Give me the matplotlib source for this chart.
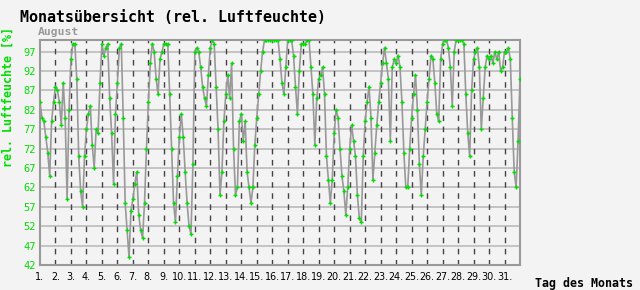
import numpy as np
import matplotlib
matplotlib.use("Agg")
import matplotlib.pyplot as plt

# relative humidity, 8 readings per day (every 3 h), August
humidity = [
    84, 80, 79, 75, 71, 65, 79, 84,   # 1
    88, 87, 84, 78, 89, 80, 59, 82,   # 2
    95, 99, 99, 90, 70, 61, 57, 70,   # 3
    77, 81, 83, 73, 67, 77, 76, 89,   # 4
    99, 96, 98, 99, 85, 76, 63, 81,   # 5
    89, 98, 99, 80, 58, 51, 44, 56,   # 6
    59, 63, 66, 55, 51, 49, 58, 72,   # 7
    84, 94, 99, 97, 90, 86, 95, 97,   # 8
    99, 99, 99, 86, 72, 58, 53, 65,   # 9
    75, 81, 75, 66, 58, 52, 50, 68,   # 10
    97, 98, 97, 93, 88, 85, 83, 91,   # 11
    98, 100, 99, 88, 77, 60, 66, 79,  # 12
    86, 91, 85, 94, 72, 60, 62, 79,   # 13
    81, 74, 79, 66, 62, 58, 62, 73,   # 14
    80, 86, 92, 97, 100, 100, 100, 100,  # 15
    100, 100, 100, 100, 95, 89, 86, 93,  # 16
    100, 100, 100, 96, 88, 81, 92, 99,   # 17
    99, 99, 100, 100, 93, 86, 73, 85,    # 18
    90, 91, 93, 86, 70, 64, 58, 64,   # 19
    76, 82, 80, 72, 65, 61, 55, 62,   # 20
    72, 78, 74, 70, 60, 54, 53, 70,   # 21
    79, 84, 88, 80, 64, 71, 78, 84,   # 22
    89, 94, 98, 94, 90, 74, 93, 95,   # 23
    94, 96, 93, 84, 71, 62, 62, 72,   # 24
    80, 86, 91, 82, 68, 60, 70, 77,   # 25
    84, 90, 96, 95, 89, 81, 79, 95,   # 26
    99, 100, 100, 98, 93, 83, 97, 100,   # 27
    100, 100, 100, 99, 86, 76, 70, 87,   # 28
    95, 97, 98, 93, 77, 85, 93, 96,   # 29
    95, 96, 94, 97, 95, 97, 92, 93,   # 30
    97, 97, 98, 95, 80, 66, 62, 74,   # 31
    90,
]
days = list(range(1, 32))
day_labels = [f"{d}." for d in days]
y_ticks = [42, 47, 52, 57, 62, 67, 72, 77, 82, 87, 92, 97]

t = 1 + np.arange(len(humidity)) / 8.0

bg = "#f3f3f3"
green = "#00dd00"
mono = "DejaVu Sans Mono"

fig = plt.figure(figsize=(6.4, 2.9), dpi=100, facecolor=bg)
ax = fig.add_axes([40 / 640, 25 / 290, 480 / 640, 225 / 290])
ax.set_facecolor(bg)

ax.set_xlim(1, 32)
ax.set_ylim(42, 100)

# grid
for yv in y_ticks[1:]:
    ax.axhline(yv, color="#bbbbbb", lw=1.2, zorder=1)
for d in days[1:]:
    ax.axvline(d, color="#444444", lw=1.0, ls=(0, (4, 4)), zorder=1)

ax.plot(t, humidity, color="#999999", lw=1.2, zorder=2)
ax.plot(t, humidity, ls="none", marker="+", ms=3.5, mew=1.0, color=green, zorder=3)

for s in ax.spines.values():
    s.set_color("#999999")
    s.set_linewidth(1.5)

ax.set_yticks(y_ticks)
ax.set_yticklabels([str(v) for v in y_ticks], family=mono, fontsize=7.5, color=green)
ax.set_xticks(days)
ax.set_xticklabels(day_labels, family="DejaVu Sans", fontsize=6.9, color="black")
ax.tick_params(axis="both", length=0)
ax.tick_params(axis="y", pad=3)
ax.tick_params(axis="x", pad=5)

fig.text(20 / 640, 1 - 18 / 290, "Monatsübersicht (rel. Luftfeuchte)", family=mono,
         fontsize=10.8, fontweight="bold", color="black", va="center", ha="left")
fig.text(38 / 640, 1 - 32 / 290, "August", family=mono, fontsize=8.2,
         fontweight="bold", color="#999999", va="center", ha="left")
fig.text(8 / 640, 1 - 97 / 290, "rel. Luftfeuchte [%]", family=mono, fontsize=8.4,
         fontweight="bold", color=green, rotation=90, va="center", ha="center")
fig.text(535 / 640, 1 - 283 / 290, "Tag des Monats", family=mono, fontsize=8.4,
         fontweight="bold", color="black", va="center", ha="left")

fig.savefig("out.png", dpi=100, facecolor=bg)
